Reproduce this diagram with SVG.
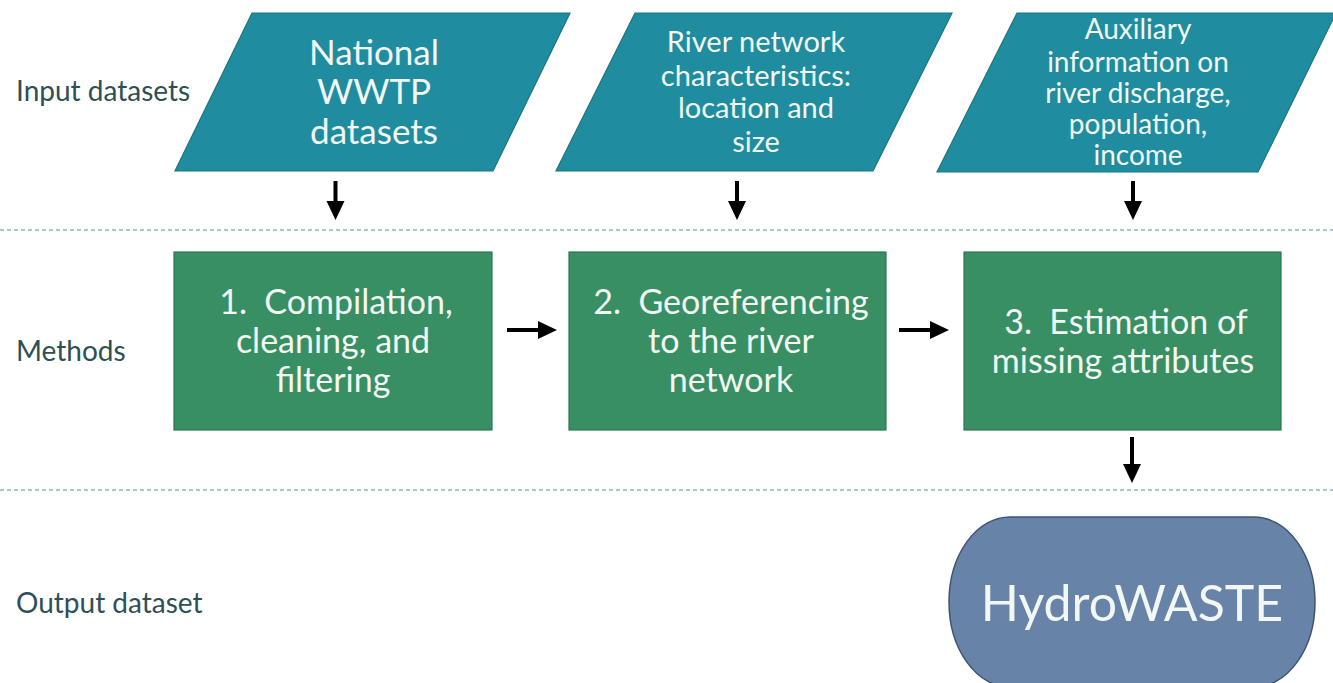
<svg xmlns="http://www.w3.org/2000/svg" width="1333" height="683" viewBox="0 0 1333 683">
<style>
.bg{fill:#ffffff}
.inp{fill:#1f8d9f;stroke:#1b7482;stroke-width:1.2}
.meth{fill:#388f64;stroke:#2e7552;stroke-width:1.2}
.out{fill:#6783a8;stroke:#3f5470;stroke-width:1.5}
.t{font-family:Lato,"Open Sans","Liberation Sans",sans-serif;fill:#f2f7f3;text-anchor:middle}
.lbl{font-family:Lato,"Open Sans","Liberation Sans",sans-serif;fill:#2e4f55;font-size:28px}
.dash{stroke:#8ab7c2;stroke-width:1.3;stroke-dasharray:4 3;fill:none}
.arr{stroke:#000;stroke-width:4;fill:none}
.head{fill:#000}
</style>
<rect class="bg" x="0" y="0" width="1333" height="683"/>
<g id="labels">
<text class="lbl" x="16" y="101">Input datasets</text>
<text class="lbl" x="16" y="361">Methods</text>
<text class="lbl" x="16" y="613">Output dataset</text>
</g>
<g id="separators">
<line class="dash" x1="0" y1="230" x2="1333" y2="230"/>
<line class="dash" x1="0" y1="490" x2="1333" y2="490"/>
</g>
<g id="input1">
<polygon class="inp" points="252,13 570,13 493,171 175,171"/>
<text class="t" font-size="35"><tspan x="374" y="65">National</tspan><tspan x="374" y="104">WWTP</tspan><tspan x="374" y="144">datasets</tspan></text>
</g>
<g id="input2">
<polygon class="inp" points="635,13 952,13 873,171 556,171"/>
<text class="t" font-size="29"><tspan x="756" y="52">River network</tspan><tspan x="756" y="86">characteristics:</tspan><tspan x="756" y="118">location and</tspan><tspan x="756" y="152">size</tspan></text>
</g>
<g id="input3">
<polygon class="inp" points="1017,13 1336,13 1258,172 937,172"/>
<text class="t" font-size="28"><tspan x="1138" y="39">Auxiliary</tspan><tspan x="1138" y="72">information on</tspan><tspan x="1138" y="103">river discharge,</tspan><tspan x="1138" y="134">population,</tspan><tspan x="1138" y="165">income</tspan></text>
</g>
<g id="method1">
<rect class="meth" x="174" y="252" width="318" height="178"/>
<text class="t" font-size="34"><tspan x="336" y="314">1.&#160; Compilation,</tspan><tspan x="333" y="353">cleaning, and</tspan><tspan x="333" y="392">filtering</tspan></text>
</g>
<g id="method2">
<rect class="meth" x="569" y="252" width="317" height="178"/>
<text class="t" font-size="34"><tspan x="731" y="314">2.&#160; Georeferencing</tspan><tspan x="731" y="353">to the river</tspan><tspan x="731" y="392">network</tspan></text>
</g>
<g id="method3">
<rect class="meth" x="964" y="252" width="317" height="178"/>
<text class="t" font-size="34"><tspan x="1126" y="334">3.&#160; Estimation of</tspan><tspan x="1123" y="373">missing attributes</tspan></text>
</g>
<g id="output">
<rect class="out" x="949" y="517" width="366" height="170" rx="61" ry="85"/>
<text class="t" font-size="50" x="1132" y="621">HydroWASTE</text>
</g>
<g id="connectors">
<line class="arr" x1="335.5" y1="181" x2="335.5" y2="203"/>
<polygon class="head" points="326.5,201 344.5,201 335.5,220"/>
<line class="arr" x1="737" y1="181" x2="737" y2="203"/>
<polygon class="head" points="728,201 746,201 737,220"/>
<line class="arr" x1="1133" y1="181" x2="1133" y2="203"/>
<polygon class="head" points="1124,201 1142,201 1133,220"/>
<line class="arr" x1="1132" y1="437" x2="1132" y2="466"/>
<polygon class="head" points="1123,464 1141,464 1132,483"/>
<line class="arr" x1="507" y1="330" x2="540" y2="330"/>
<polygon class="head" points="538,321 538,339 557,330"/>
<line class="arr" x1="899" y1="330" x2="932" y2="330"/>
<polygon class="head" points="930,321 930,339 949,330"/>
</g>
</svg>
